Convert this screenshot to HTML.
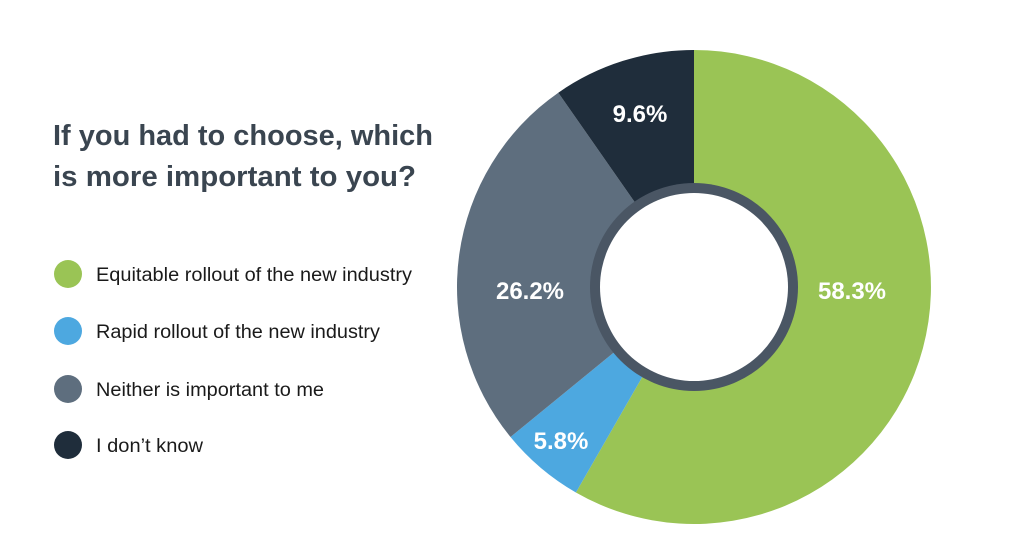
<!DOCTYPE html>
<html><head><meta charset="utf-8"><style>
body{margin:0;background:#fff;width:1024px;height:547px;overflow:hidden;font-family:"Liberation Sans",sans-serif}
</style></head><body>
<svg width="1024" height="547" viewBox="0 0 1024 547" xmlns="http://www.w3.org/2000/svg">
<g font-family="Liberation Sans, sans-serif">
<text x="53" y="145" font-size="29" font-weight="bold" fill="#3a4550" textLength="380" lengthAdjust="spacingAndGlyphs">If you had to choose, which</text>
<text x="53" y="186" font-size="29" font-weight="bold" fill="#3a4550" textLength="363" lengthAdjust="spacingAndGlyphs">is more important to you?</text>
<circle cx="68" cy="274" r="14" fill="#9AC455"/>
<circle cx="68" cy="331" r="14" fill="#4DA8E0"/>
<circle cx="68" cy="389" r="14" fill="#5E6E7E"/>
<circle cx="68" cy="445" r="14" fill="#1F2D3B"/>
<g font-size="19" fill="#1a1a1a">
<text x="96" y="281" textLength="316" lengthAdjust="spacingAndGlyphs">Equitable rollout of the new industry</text>
<text x="96" y="338" textLength="284" lengthAdjust="spacingAndGlyphs">Rapid rollout of the new industry</text>
<text x="96" y="396" textLength="228" lengthAdjust="spacingAndGlyphs">Neither is important to me</text>
<text x="96" y="452" textLength="107" lengthAdjust="spacingAndGlyphs">I don’t know</text>
</g>
<path d="M694 287 L694 50 A237 237 0 1 1 575.9 492.5 Z" fill="#9AC455"/>
<path d="M694 287 L575.9 492.5 A237 237 0 0 1 510.5 437 Z" fill="#4DA8E0"/>
<path d="M694 287 L510.5 437 A237 237 0 0 1 558.3 92.7 Z" fill="#5E6E7E"/>
<path d="M694 287 L558.3 92.7 A237 237 0 0 1 694 50 Z" fill="#1F2D3B"/>
<circle cx="694" cy="287" r="104" fill="#4A5664"/>
<circle cx="694" cy="287" r="94" fill="#fff"/>
<g font-size="24" font-weight="bold" fill="#fff" text-anchor="middle">
<text x="852" y="299">58.3%</text>
<text x="561" y="449">5.8%</text>
<text x="530" y="299">26.2%</text>
<text x="640" y="122">9.6%</text>
</g>
</g>
</svg>
</body></html>
